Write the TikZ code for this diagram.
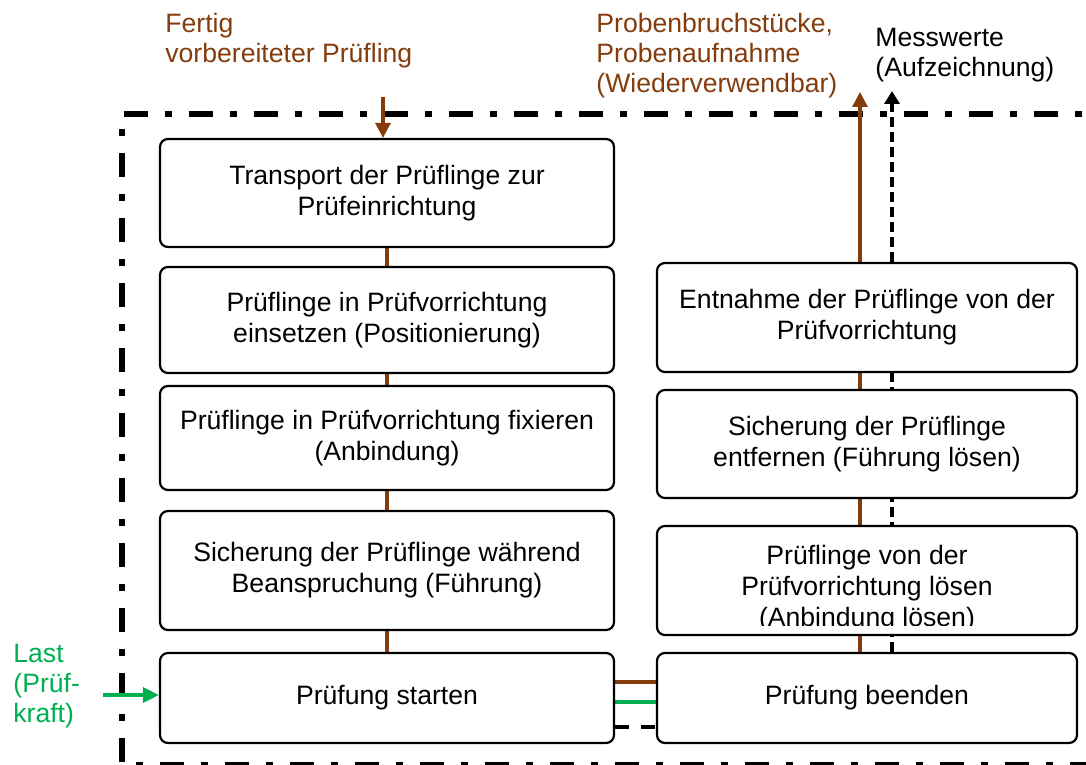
\documentclass[tikz,border=0pt]{standalone}
\usepackage{fontspec}
\setmainfont{Liberation Sans}
\usetikzlibrary{arrows.meta,calc,backgrounds}
\definecolor{rust}{HTML}{843C0C}
\definecolor{leaf}{HTML}{00B050}

\begin{document}
\begin{tikzpicture}[x=0.5pt,y=-0.5pt,
  txt/.style={font=\fontsize{13.3pt}{15.5pt}\selectfont},
  stepbox/.style={draw, line width=1.1pt, rounded corners=4pt, fill=white,
                  align=center, inner sep=0pt, txt},
  lbox/.style={stepbox, minimum width=227pt},
  rbox/.style={stepbox, minimum width=210pt},
  flow/.style={draw=rust, line width=1.6pt},
  force/.style={draw=leaf, line width=1.7pt},
  meas/.style={draw=black, line width=2pt, dash pattern=on 5pt off 2.5pt},
  meash/.style={draw=black, line width=1.6pt, dash pattern=on 7pt off 6pt},
  border/.style={line width=2.6pt, dash pattern=on 12pt off 8.5pt on 3.5pt off 8.5pt},
  lbl/.style={anchor=north west, inner sep=0pt, align=left,
              font=\fontsize{13.3pt}{15pt}\selectfont}
]
\useasboundingbox (0,0) rectangle (1086,765);
\clip (0,0) rectangle (1086,765);

% free ends of the in/out arrows
\coordinate (inP)  at (383,97);
\coordinate (outP) at (860,92);
\coordinate (outM) at (892,91);
\coordinate (load) at (103,695);

% process steps, left column
\node[lbox, minimum height=54pt]   (L1) at (387,193)   {Transport der Prüflinge zur\\Prüfeinrichtung};
\node[lbox, minimum height=53pt]   (L2) at (387,320)   {Prüflinge in Prüfvorrichtung\\einsetzen (Positionierung)};
\node[lbox, minimum height=52pt]   (L3) at (387,438)   {Prüflinge in Prüfvorrichtung fixieren\\(Anbindung)};
\node[lbox, minimum height=59.5pt] (L4) at (387,570.5) {Sicherung der Prüflinge während\\Beanspruchung (Führung)};
\node[lbox, minimum height=45pt]   (L5) at (387,698)   {Prüfung starten};
% process steps, right column
\node[rbox, minimum height=54.5pt] (R1) at (867,317.5) {Entnahme der Prüflinge von der\\Prüfvorrichtung};
\node[rbox, minimum height=54pt]   (R2) at (867,444)   {Sicherung der Prüflinge\\entfernen (Führung lösen)};
\node[rbox, minimum height=54.5pt] (R3) at (867,580.5) {};
\node[rbox, minimum height=45pt]   (R4) at (867,698)   {Prüfung beenden};
% three-line text, cut off by the lower box edge
\begin{scope}
  \clip (657,526) rectangle (1077,625);
  \node[txt, align=center, inner sep=0pt] (R3t) at ($(R3.center)+(0,8)$)
    {Prüflinge von der\\Prüfvorrichtung lösen\\(Anbindung lösen)};
\end{scope}

\begin{scope}[on background layer]
  % system boundary (dash-dot frame)
  \draw[border] (124,114) -- (1110,114);
  \draw[border, dash phase=13pt] (122,114) -- (122,765) -- (1110,765);

  % material flow, left column
  \draw[flow] (L1.south) -- (L2.north);
  \draw[flow] (L2.south) -- (L3.north);
  \draw[flow] (L3.south) -- (L4.north);
  \draw[flow] (L4.south) -- (L5.north);

  % outputs, right column
  \draw[flow, -{Triangle[width=7.5pt,length=7.5pt]}] (R4.north -| outP) -- (outP);
  \draw[meas, -{Triangle[width=7.5pt,length=6.5pt]}] (R4.north -| outM) -- (outM);

  % links between start and end of the test
  \draw[flow]  ($(L5.east)+(0,-16)$) -- ($(R4.west)+(0,-16)$);
  \draw[force] ($(L5.east)+(0,4)$)   -- ($(R4.west)+(0,4)$);
  \draw[meash] ($(L5.east)+(0,29)$)  -- ($(R4.west)+(0,29)$);
\end{scope}

% inputs
\draw[flow, -{Triangle[width=7.5pt,length=7.5pt]}] (inP) -- (inP |- L1.north);
\draw[force, -{Triangle[width=7.5pt,length=8pt]}] (load) -- (load -| L5.west);

% labels of inputs and outputs
\node[lbl, text=rust] (lfertig) at (165,13) {Fertig\\vorbereiteter Prüfling};
\node[lbl, text=rust] (lproben) at (596,13) {Probenbruchstücke,\\Probenaufnahme\\(Wiederverwendbar)};
\node[lbl]            (lmess)   at (875,28) {Messwerte\\(Aufzeichnung)};
\node[lbl, text=leaf] (llast)   at (13,644) {Last\\(Prüf-\\kraft)};
\end{tikzpicture}
\end{document}
